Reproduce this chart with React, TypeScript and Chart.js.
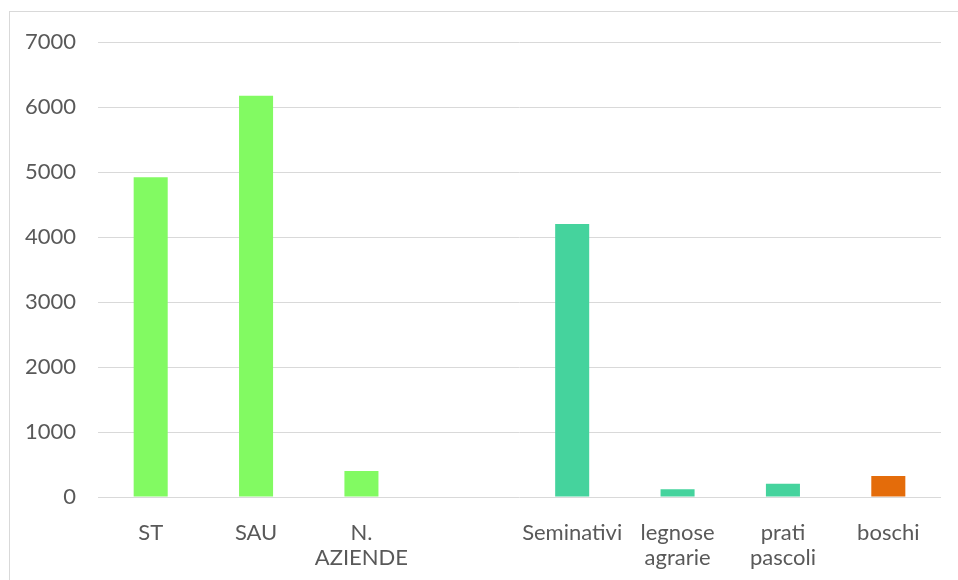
import React, { useEffect, useRef } from "react";
import { Chart, registerables } from "chart.js";

Chart.register(...registerables);

const categories: (string | string[])[] = [
  "ST",
  "SAU",
  ["N.", "AZIENDE"],
  "",
  "Seminativi",
  ["legnose", "agrarie"],
  ["prati", "pascoli"],
  "boschi",
];
const values: (number | null)[] = [4920, 6175, 400, null, 4200, 120, 205, 323];
const barColors = ["#82FA62", "#82FA62", "#82FA62", "#82FA62", "#45D39D", "#45D39D", "#45D39D", "#E46C0A"];
const yTicks = { min: 0, max: 7000, step: 1000 };

export default function App() {
  const ref = useRef<HTMLCanvasElement | null>(null);
  useEffect(() => {
    if (!ref.current) return;
    const font = { family: "Lato", size: 22, lineHeight: 1.14 };
    const chart = new Chart(ref.current, {
      type: "bar",
      data: {
        labels: categories,
        datasets: [
          {
            data: values,
            backgroundColor: barColors,
            barPercentage: 0.323,
            categoryPercentage: 1,
          },
        ],
      },
      options: {
        animation: false,
        responsive: false,
        maintainAspectRatio: false,
        layout: { padding: { top: 30, right: 17, bottom: 0, left: 0 } },
        plugins: { legend: { display: false }, tooltip: { enabled: false } },
        scales: {
          x: {
            grid: { display: false },
            border: { display: false },
            ticks: { color: "#595959", font, padding: 15, maxRotation: 0, autoSkip: false },
            afterFit: (s: any) => {
              s.height = 83;
              s.paddingLeft = 0;
              s.paddingRight = 0;
            },
          },
          y: {
            min: yTicks.min,
            max: yTicks.max,
            grid: { color: "#d9d9d9", lineWidth: 1, drawTicks: false },
            border: { display: false },
            ticks: {
              stepSize: yTicks.step,
              color: "#595959",
              font,
              padding: 22,
              callback: (v: any) => String(v),
            },
            afterFit: (s: any) => {
              s.width = 88;
              s.paddingTop = 0;
              s.paddingBottom = 0;
            },
          },
        },
      },
    });
    return () => chart.destroy();
  }, []);
  return (
    <div
      style={{
        position: "fixed",
        left: 9,
        top: 11,
        width: 949,
        height: 569,
        borderTop: "1px solid #d9d9d9",
        borderLeft: "1px solid #d9d9d9",
        background: "#fff",
      }}
    >
      <canvas ref={ref} width={948} height={568} style={{ display: "block", width: 948, height: 568 }} />
    </div>
  );
}
